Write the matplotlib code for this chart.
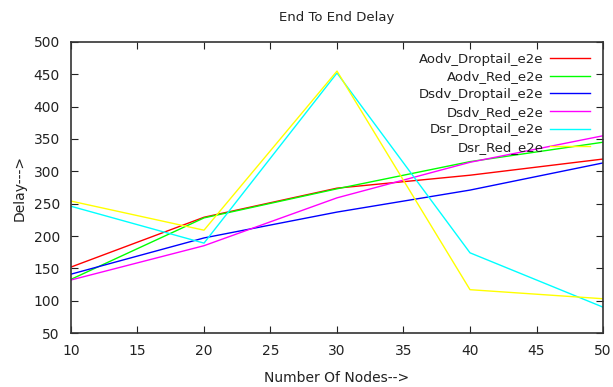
import numpy as np
import matplotlib.pyplot as plt

nodes = [10, 20, 30, 40, 50]
aodv_droptail = [152, 229, 274, 294, 319]
aodv_red = [133, 228, 273, 315, 345]
dsdv_droptail = [141, 197, 237, 271, 313]
dsdv_red = [132, 185, 259, 314, 355]
dsr_droptail = [246, 189, 452, 174, 90]
dsr_red = [254, 209, 455, 117, 103]

names = ["Aodv_Droptail_e2e", "Aodv_Red_e2e", "Dsdv_Droptail_e2e",
         "Dsdv_Red_e2e", "Dsr_Droptail_e2e", "Dsr_Red_e2e"]
series = [aodv_droptail, aodv_red, dsdv_droptail, dsdv_red, dsr_droptail, dsr_red]
colors = ["#ff0000", "#00ff00", "#0000ff", "#ff00ff", "#00ffff", "#ffff00"]

fig = plt.figure(figsize=(6.13, 3.87), dpi=100)
ax = fig.add_axes([0.1158, 0.1395, 0.8679, 0.752])

for y, name, c in zip(series, names, colors):
    ax.plot(nodes, y, color=c, lw=1.0, label=name)

ax.set_xlim(10, 50)
ax.set_ylim(50, 500)
ax.set_xticks(range(10, 51, 5))
ax.set_yticks(range(50, 501, 50))
ax.tick_params(direction="in", top=True, right=True, length=5, labelsize=10,
               colors="#222222", pad=8)
for s in ax.spines.values():
    s.set_color("#333333")
    s.set_linewidth(1.2)

ax.set_title("End To End Delay", fontsize=9.5, pad=15, color="#222222")
ax.set_xlabel("Number Of Nodes-->", fontsize=10, labelpad=9, color="#222222")
ax.set_ylabel("Delay--->", fontsize=10, labelpad=5, color="#222222")

leg = ax.legend(loc="upper right", frameon=False, markerfirst=False, fontsize=9.5,
                handlelength=3.0, labelspacing=0.35, handletextpad=0.5,
                borderaxespad=0.2, bbox_to_anchor=(0.99, 0.99))
for t in leg.get_texts():
    t.set_ha("right")
    t.set_color("#222222")
leg._legend_box.align = "right"

fig.savefig("out.png", dpi=100)
